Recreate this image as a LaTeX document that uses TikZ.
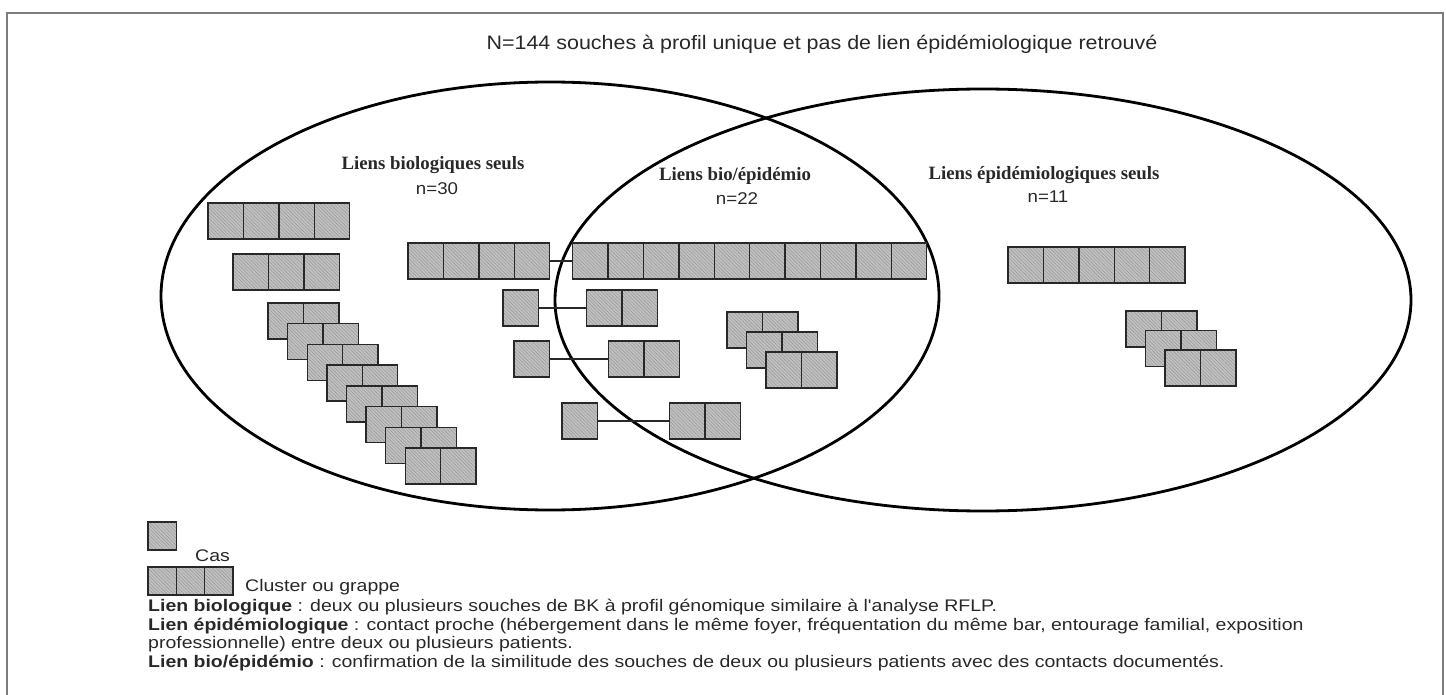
\documentclass[tikz,border=0pt]{standalone}
\usepackage{fontspec}
\setmainfont{Liberation Sans}[FakeStretch=1.1]
\newfontfamily\legfont{Liberation Sans}[FakeStretch=1.16]
\newfontfamily\serifgras{Liberation Serif}
\usepackage{tikz}
\usetikzlibrary{positioning,patterns.meta}
\definecolor{trait}{RGB}{40,40,40}
\definecolor{grisbox}{RGB}{192,192,192}
\definecolor{cadregris}{RGB}{125,125,125}

\newcommand{\grappe}[3]{%
  \node[cas, #3] (#1-1) {};
  \foreach \i [remember=\i as \j (initially 1)] in {2,...,#2}
    \node[cas, right=0pt of #1-\j] (#1-\i) {};
}

\begin{document}
\begin{tikzpicture}[
    x=1pt, y=-1pt,
    cas/.style={draw=trait, line width=1.4pt, preaction={fill=grisbox},
      preaction={pattern={Lines[angle=-45,distance=2.4pt,line width=0.3pt]}, pattern color=black!45},
      minimum width=35.4pt, minimum height=36pt, inner sep=0pt, outer sep=0pt},
    casleg/.style={cas, line width=1.2pt, minimum width=28.3pt, minimum height=28pt},
    contour/.style={draw=black, line width=2.8pt},
    lien/.style={draw=trait, line width=1.3pt},
    cadre/.style={draw=cadregris, line width=1.5pt},
    titre/.style={font=\fontsize{19.5}{22}\selectfont, text=trait},
    etiq/.style={font=\serifgras\bfseries\fontsize{18.8}{21}\selectfont, text=trait},
    effectif/.style={font=\fontsize{17}{20}\selectfont, text=trait},
    etiqleg/.style={font=\legfont\fontsize{16.8}{20}\selectfont, text=trait, inner sep=0pt},
    legende/.style={font=\legfont\fontsize{16.8}{18.6}\selectfont, text=trait, align=left, inner sep=0pt}
]
    \useasboundingbox (0,0) rectangle (1446,695);
    \draw[cadre] (7,695) -- (7,13) -- (1443,13) -- (1443,695);

    \node[titre] (titre) at (822,44) {N=144 souches à profil unique et pas de lien épidémiologique retrouvé};

    \draw[contour] (550,296) ellipse [x radius=389, y radius=214];
    \draw[contour] (983,300) ellipse [x radius=428, y radius=211];

    \node[etiq] (bio) at (433,165) {Liens biologiques seuls};
    \node[effectif] (nbio) at (437,189) {n=30};
    \node[etiq] (mixte) at (735,176) {Liens bio/épidémio};
    \node[effectif] (nmixte) at (737,199) {n=22};
    \node[etiq] (epi) at (1044,175) {Liens épidémiologiques seuls};
    \node[effectif] (nepi) at (1048,197) {n=11};

    \grappe{a}{4}{anchor=north west, at={(208,203)}}
    \grappe{b}{3}{anchor=north west, at={(233,254)}}
    \foreach \k in {0,...,7} {\grappe{esc\k}{2}{anchor=north west, at={(268+19.6*\k,303+20.7*\k)}}}

    \grappe{c}{4}{anchor=north west, at={(408,243)}}
    \grappe{d}{10}{right=23pt of c-4}
    \draw[lien] (c-4) -- (d-1);

    \node[cas, anchor=north west] (s1) at (503,290) {};
    \grappe{p1}{2}{right=48pt of s1}
    \draw[lien] (s1) -- (p1-1);
    \node[cas, anchor=north west] (s2) at (514,341) {};
    \grappe{p2}{2}{right=59pt of s2}
    \draw[lien] (s2) -- (p2-1);
    \node[cas, anchor=north west] (s3) at (562,403) {};
    \grappe{p3}{2}{right=72pt of s3}
    \draw[lien] (s3) -- (p3-1);

    \foreach \k in {0,1,2} {\grappe{m\k}{2}{anchor=north west, at={(727+19.5*\k,312+20*\k)}}}

    \grappe{e}{5}{anchor=north west, at={(1008,247)}}
    \foreach \k in {0,1,2} {\grappe{r\k}{2}{anchor=north west, at={(1126+19.5*\k,311+19.5*\k)}}}

    \node[casleg, anchor=north west] (lcas) at (148,522) {};
    \node[etiqleg, anchor=base west] (tcas) at (195,561) {Cas};
    \node[casleg, anchor=north west] (lg-1) at (148,567) {};
    \node[casleg, right=0pt of lg-1] (lg-2) {};
    \node[casleg, right=0pt of lg-2] (lg-3) {};
    \node[etiqleg, anchor=base west] (tgrappe) at (245,591) {Cluster ou grappe};

    \node[legende, anchor=north west] (defs) at (148,599) {\textbf{Lien biologique} : deux ou plusieurs souches de BK à profil génomique similaire à l'analyse RFLP.\\
      \textbf{Lien épidémiologique} : contact proche (hébergement dans le même foyer, fréquentation du même bar, entourage familial, exposition\\
      professionnelle) entre deux ou plusieurs patients.\\
      \textbf{Lien bio/épidémio} : confirmation de la similitude des souches de deux ou plusieurs patients avec des contacts documentés.};
\end{tikzpicture}
\end{document}
